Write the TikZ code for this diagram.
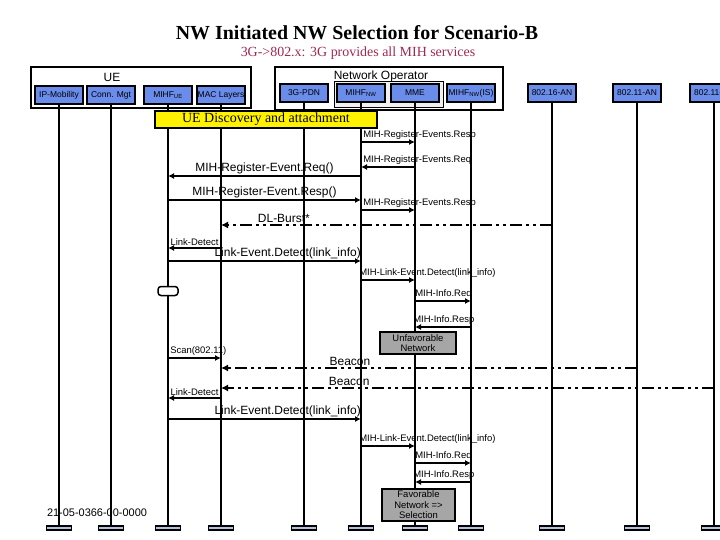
\documentclass[tikz,border=0pt]{standalone}
\usepackage{fontspec}
\setmainfont{Liberation Serif}
\setsansfont{Liberation Sans}
\usepackage{tikz}
\usetikzlibrary{arrows.meta,positioning}
\definecolor{hdblue}{HTML}{6A8CEB}
\definecolor{barblue}{HTML}{B4C0E0}
\definecolor{notegray}{HTML}{A6A6A6}
\definecolor{subred}{HTML}{A0284F}
\definecolor{coregray}{HTML}{F0F0F0}

\begin{document}
\begin{tikzpicture}[
  x=1bp, y=-1bp,
  head/.style={draw, line width=1.5bp, fill=hdblue, outer sep=0pt, inner sep=0.5bp, minimum width=48bp, minimum height=18bp, font=\sffamily\fontsize{8.5}{9}\selectfont},
  group/.style={draw, line width=1.5bp, outer sep=0pt},
  corebox/.style={draw, line width=0.8bp, fill=coregray, outer sep=0pt},
  grouplbl/.style={font=\sffamily\fontsize{12}{13}\selectfont, inner sep=0pt},
  band/.style={draw, line width=1.2bp, fill=yellow, minimum width=222bp, minimum height=17bp, inner sep=0pt, font=\fontsize{14}{15}\selectfont},
  life/.style={line width=1.5bp},
  endbar/.style={draw, line width=1.2bp, fill=barblue, minimum width=25bp, minimum height=4bp, inner sep=0pt},
  msg/.style={line width=1.5bp, -{Latex[length=6bp,width=6bp]}},
  burst/.style={line width=2.5bp, dash pattern=on 12bp off 4bp on 3bp off 4bp on 3bp off 4bp, -{Latex[length=7bp,width=7bp]}},
  lbl/.style={font=\sffamily\fontsize{12}{13}\selectfont, inner sep=1.5bp},
  slbl/.style={font=\sffamily\fontsize{9.5}{10}\selectfont, inner sep=1.5bp},
  note/.style={draw, line width=1.5bp, fill=notegray, align=center, inner sep=1bp, font=\sffamily\fontsize{9.5}{10.5}\selectfont},
  loopmark/.style={draw, line width=1.5bp, fill=white, rounded corners=3bp, minimum width=20bp, minimum height=9bp, inner sep=0pt}
]
\useasboundingbox (0,0) rectangle (720,540);
% titles
\node[font=\bfseries\fontsize{20}{22}\selectfont] (title) at (357,33) {NW Initiated NW Selection for Scenario-B};
\node[text=subred, font=\fontsize{14}{16}\selectfont] (subtitle) at (358,53) {3G->802.x: 3G provides all MIH services};
% groups
\node[group, minimum width=220bp, minimum height=41bp] (ue) at (141,87.5) {};
\node[grouplbl] (uelbl) at (112,77) {UE};
\node[group, minimum width=228bp, minimum height=43bp] (nwop) at (389,88.5) {};
\node[grouplbl] (nwoplbl) at (381,76) {Network Operator};
\node[corebox, minimum width=109bp, minimum height=26bp] (core) at (388.5,94) {};
% entities
\node[head] (ipm) at (59,95) {IP-Mobility};
\node[head, right=4bp of ipm] (conn) {Conn. Mgt};
\node[head, right=9bp of conn] (mihfue) {MIHF\textsubscript{UE}};
\node[head, right=5bp of mihfue] (mac) {MAC Layers};
\node[head] (pdn) at (304,93) {3G-PDN};
\node[head, right=9bp of pdn] (mihfnw) {MIHF\textsubscript{NW}};
\node[head, right=6bp of mihfnw] (mme) {MME};
\node[head, right=8bp of mme] (mihfis) {MIHF\textsubscript{NW}(IS)};
\node[head, right=33bp of mihfis] (anwimax) {802.16-AN};
\node[head, right=37bp of anwimax] (anwifi) {802.11-AN};
\node[head, right=29bp of anwifi] (anwifib) {802.11-AN};
% lifelines
\coordinate (bottom) at (0,528);
\draw[life] (ipm.south) -- (ipm |- bottom) node[endbar] (ipmend) {};
\draw[life] (conn.south) -- (conn |- bottom) node[endbar] (connend) {};
\draw[life] (mihfue.south) -- (mihfue |- bottom) node[endbar] (mihfueend) {};
\draw[life] (mac.south) -- (mac |- bottom) node[endbar] (macend) {};
\draw[life] (pdn.south) -- (pdn |- bottom) node[endbar] (pdnend) {};
\draw[life] (mihfnw.south) -- (mihfnw |- bottom) node[endbar] (mihfnwend) {};
\draw[life] (mme.south) -- (mme |- bottom) node[endbar] (mmeend) {};
\draw[life] (mihfis.south) -- (mihfis |- bottom) node[endbar] (mihfisend) {};
\draw[life] (anwimax.south) -- (anwimax |- bottom) node[endbar] (anwimaxend) {};
\draw[life] (anwifi.south) -- (anwifi |- bottom) node[endbar] (anwifiend) {};
\draw[life] (anwifib.south) -- (anwifib |- bottom) node[endbar] (anwifibend) {};
% discovery phase
\node[band] (disc) at (266,119.5) {UE Discovery and attachment};
% message rows
\coordinate (r1) at (0,142);
\coordinate (r2) at (0,167);
\coordinate (r3) at (0,176);
\coordinate (r4) at (0,200);
\coordinate (r5) at (0,210);
\coordinate (r6) at (0,225);
\coordinate (r7) at (0,248);
\coordinate (r8) at (0,261);
\coordinate (r9) at (0,280);
\coordinate (r10) at (0,301);
\coordinate (r11) at (0,327);
\coordinate (r12) at (0,358);
\coordinate (r13) at (0,368);
\coordinate (r14) at (0,388);
\coordinate (r15) at (0,398);
\coordinate (r16) at (0,419);
\coordinate (r17) at (0,446);
\coordinate (r18) at (0,463);
\coordinate (r19) at (0,482);
% registration
\draw[msg] (mihfnw |- r1) -- node[slbl, pos=0, anchor=south west] (m1) {MIH-Register-Events.Resp} (mme |- r1);
\draw[msg] (mme |- r2) -- node[slbl, pos=1, anchor=south west] (m2) {MIH-Register-Events.Req} (mihfnw |- r2);
\draw[msg] (mihfnw |- r3) -- node[lbl, midway, above] (m3) {MIH-Register-Event.Req()} (mihfue |- r3);
\draw[msg] (mihfue |- r4) -- node[lbl, midway, above] (m4) {MIH-Register-Event.Resp()} (mihfnw |- r4);
\draw[msg] (mihfnw |- r5) -- node[slbl, pos=0, anchor=south west] (m5) {MIH-Register-Events.Resp} (mme |- r5);
% 802.16 detection
\draw[burst] (anwimax |- r6) -- node[lbl, pos=0.81, above] (m6) {DL-Burst*} (mac |- r6);
\draw[msg] (mac |- r7) -- node[slbl, midway, above] (m7) {Link-Detect} (mihfue |- r7);
\draw[msg] (mihfue |- r8) -- node[lbl, pos=0.62, above] (m8) {Link-Event.Detect(link\_info)} (mihfnw |- r8);
\draw[msg] (mihfnw |- r9) -- node[slbl, pos=0, anchor=south west, xshift=-4bp] (m9) {MIH-Link-Event.Detect(link\_info)} (mme |- r9);
\node[loopmark] (loop) at (mihfue |- 0,291) {};
\draw[msg] (mme |- r10) -- node[slbl, pos=0, anchor=south west, xshift=-2bp] (m10) {MIH-Info.Req} (mihfis |- r10);
\draw[msg] (mihfis |- r11) -- node[slbl, pos=1, anchor=south west, xshift=-4bp] (m11) {MIH-Info.Resp} (mme |- r11);
\node[note, minimum width=76bp, minimum height=22bp] (unfav) at (418,343) {Unfavorable\\Network};
% 802.11 detection
\draw[msg] (mihfue |- r12) -- node[slbl, pos=0, anchor=south west] (m12) {Scan(802.11)} (mac |- r12);
\draw[burst] (anwifi |- r13) -- node[lbl, pos=0.69, above] (m13) {Beacon} (mac |- r13);
\draw[burst] (anwifib |- r14) -- node[lbl, pos=0.74, above] (m14) {Beacon} (mac |- r14);
\draw[msg] (mac |- r15) -- node[slbl, midway, above] (m15) {Link-Detect} (mihfue |- r15);
\draw[msg] (mihfue |- r16) -- node[lbl, pos=0.62, above] (m16) {Link-Event.Detect(link\_info)} (mihfnw |- r16);
\draw[msg] (mihfnw |- r17) -- node[slbl, pos=0, anchor=south west, xshift=-4bp] (m17) {MIH-Link-Event.Detect(link\_info)} (mme |- r17);
\draw[msg] (mme |- r18) -- node[slbl, pos=0, anchor=south west, xshift=-2bp] (m18) {MIH-Info.Req} (mihfis |- r18);
\draw[msg] (mihfis |- r19) -- node[slbl, pos=1, anchor=south west, xshift=-4bp] (m19) {MIH-Info.Resp} (mme |- r19);
\node[note, minimum width=73bp, minimum height=32bp] (fav) at (418.5,505) {Favorable\\Network =>\\Selection};
% document number
\node[font=\sffamily\fontsize{11}{12}\selectfont] (docnum) at (97,513) {21-05-0366-00-0000};
\end{tikzpicture}
\end{document}
